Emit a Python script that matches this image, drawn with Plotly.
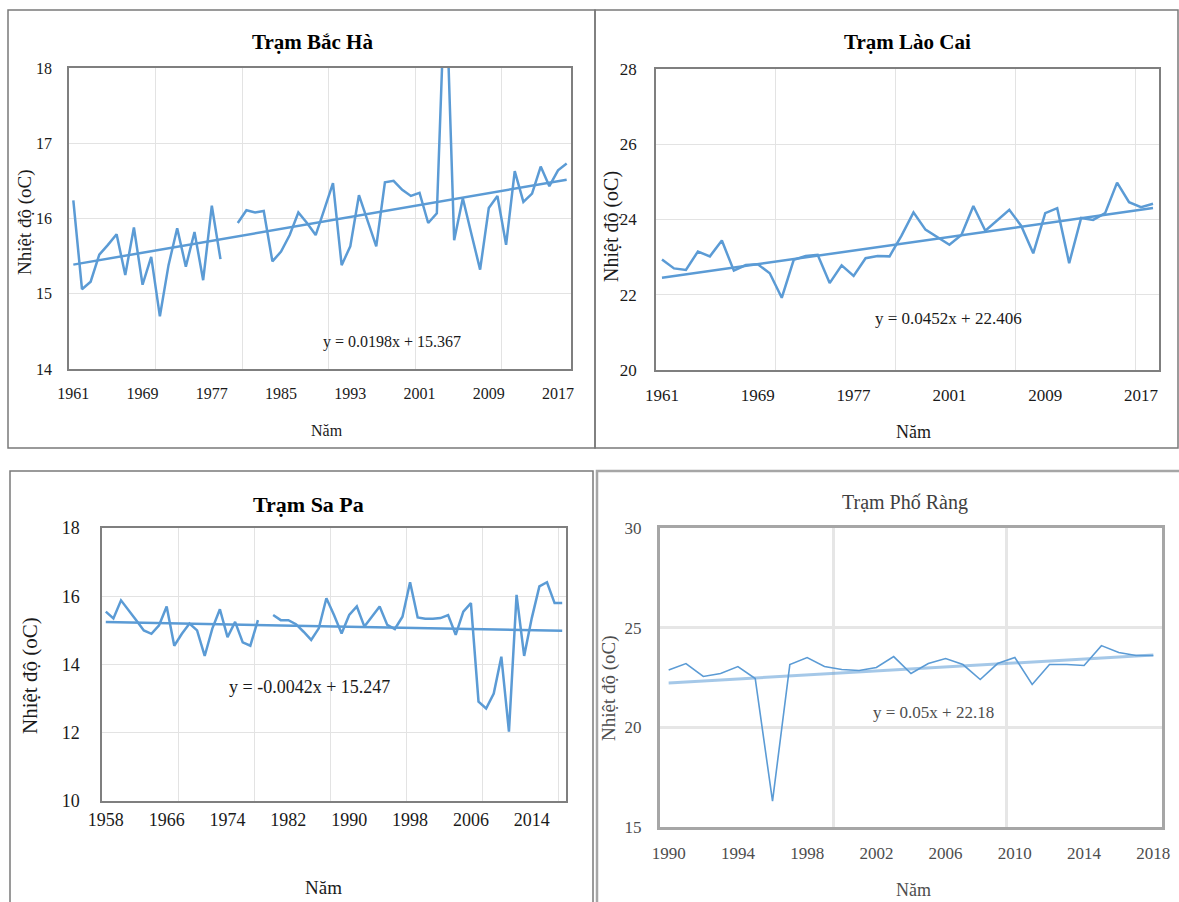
import plotly.graph_objects as go

W, H = 1179, 902

# ---------------- data ----------------
bac_ha_years = list(range(1961, 2019))
bac_ha_temp = [16.24, 15.06, 15.16, 15.52, 15.65, 15.79, 15.25, 15.88, 15.12, 15.49,
               14.70, 15.38, 15.87, 15.36, 15.82, 15.18, 16.17, 15.46, None, 15.94,
               16.11, 16.08, 16.10, 15.43, 15.56, 15.78, 16.08, 15.94, 15.78, 16.12,
               16.47, 15.38, 15.63, 16.31, 15.97, 15.63, 16.48, 16.50, 16.38, 16.30,
               16.34, 15.94, 16.07, 19.30, 15.71, 16.27, 15.79, 15.32, 16.14, 16.30,
               15.65, 16.63, 16.22, 16.33, 16.69, 16.43, 16.64, 16.73]
bac_ha_trend = [0.0198, 15.367]

lao_cai_years = [1961, 1962, 1963, 1964, 1965, 1966, 1967, 1968, 1969, 1970, 1971, 1972,
                 1973, 1974, 1975, 1976, 1977,
                 1994, 1995, 1996, 1997, 1998, 1999, 2000, 2001, 2002, 2003, 2004, 2005,
                 2006, 2007, 2008, 2009, 2010, 2011, 2012, 2013, 2014, 2015, 2016, 2017, 2018]
lao_cai_temp = [22.94, 22.70, 22.66, 23.15, 23.02, 23.44, 22.64, 22.79, 22.81, 22.57,
                21.92, 22.93, 23.03, 23.06, 22.31, 22.78, 22.50, 22.97, 23.03, 23.02,
                23.57, 24.19, 23.73, 23.53, 23.33, 23.59, 24.36, 23.70, 23.99, 24.26,
                23.83, 23.10, 24.17, 24.30, 22.84, 24.04, 23.99, 24.17, 24.98, 24.46,
                24.33, 24.42]
lao_cai_trend = [0.0452, 22.406]

sa_pa_years = list(range(1958, 2019))
sa_pa_temp = [15.55, 15.35, 15.88, 15.60, 15.30, 15.00, 14.90, 15.15, 15.70, 14.55,
              14.90, 15.20, 15.00, 14.25, 15.05, 15.62, 14.80, 15.25, 14.65, 14.55,
              15.30, None, 15.45, 15.30, 15.30, 15.18, 14.96, 14.72, 15.06, 15.94,
              15.45, 14.91, 15.45, 15.70, 15.11, 15.40, 15.70, 15.16, 15.04, 15.40,
              16.41, 15.38, 15.34, 15.34, 15.36, 15.45, 14.87, 15.55, 15.80, 12.91,
              12.71, 13.15, 14.23, 12.03, 16.04, 14.25, 15.36, 16.29, 16.41, 15.80,
              15.80]
sa_pa_trend = [-0.0042, 15.247]

pho_rang_years = list(range(1990, 2019))
pho_rang_temp = [22.88, 23.20, 22.55, 22.70, 23.05, 22.45, 16.30, 23.15, 23.50, 23.05,
                 22.90, 22.85, 23.00, 23.55, 22.70, 23.20, 23.45, 23.15, 22.40, 23.20,
                 23.50, 22.15, 23.15, 23.15, 23.10, 24.10, 23.75, 23.60, 23.60]
pho_rang_trend = [0.05, 22.18]

titles = ["Trạm Bắc Hà", "Trạm Lào Cai", "Trạm Sa Pa", "Trạm Phố Ràng"]
y_title = "Nhiệt độ (oC)"
x_title = "Năm"

FONT = "Liberation Serif"
BLUE = "#5B9BD5"


def fx(px):
    return px / W


def fy(py):
    return 1 - py / H


panels = [
    dict(years=bac_ha_years, temp=bac_ha_temp, coef=bac_ha_trend, title=titles[0],
         xd=(69, 571), yd=(68, 369), yr=(14, 18), dt=1, step=8, fs=16,
         title_pos=(312, 42), title_fs=21, bold=True,
         yt_pos=(25, 222), yt_fs=19, xt_pos=(327, 430), xt_fs=16,
         eq_pos=(392, 342), eq_fs=16,
         frame="#7F7F7F", fw=1.5, grid="#E3E3E3", gw=1, lw=2.5, tw=2.5, tcol=BLUE,
         txt="#1a1a1a", xstand=9, ystand=12),
    dict(years=lao_cai_years, temp=lao_cai_temp, coef=lao_cai_trend, title=titles[1],
         xd=(656, 1159), yd=(69, 370), yr=(20, 28), dt=2, step=8, fs=17,
         title_pos=(907, 42), title_fs=21, bold=True,
         yt_pos=(611, 227), yt_fs=20, xt_pos=(913, 432), xt_fs=18,
         eq_pos=(948, 318), eq_fs=17,
         frame="#7F7F7F", fw=1.5, grid="#E3E3E3", gw=1, lw=2.5, tw=2.5, tcol=BLUE,
         txt="#1a1a1a", xstand=9, ystand=14),
    dict(years=sa_pa_years, temp=sa_pa_temp, coef=sa_pa_trend, title=titles[2],
         xd=(102, 566), yd=(528, 801), yr=(10, 18), dt=2, step=8, fs=18,
         title_pos=(308, 505), title_fs=22, bold=True,
         yt_pos=(30, 675), yt_fs=21, xt_pos=(323, 887), xt_fs=19,
         eq_pos=(309, 687), eq_fs=18,
         frame="#7F7F7F", fw=1.5, grid="#E3E3E3", gw=1, lw=2.5, tw=2.5, tcol=BLUE,
         txt="#1a1a1a", xstand=2, ystand=17),
    dict(years=pho_rang_years, temp=pho_rang_temp, coef=pho_rang_trend, title=titles[3],
         xd=(660, 1162), yd=(528, 827), yr=(15, 30), dt=5, step=4, fs=17,
         title_pos=(905, 502), title_fs=20, bold=False,
         yt_pos=(609, 688), yt_fs=19, xt_pos=(913, 890), xt_fs=18,
         eq_pos=(933, 712), eq_fs=17,
         frame="#A6A6A6", fw=3, grid="#E6E6E6", gw=2.5, lw=1.6, tw=3,
         tcol="rgba(91,155,213,0.55)",
         txt="#4d4d4d", xstand=9, ystand=12),
]

fig = go.Figure()
annotations = []
layout = {}

for k, p in enumerate(panels):
    sfx = "" if k == 0 else str(k + 1)
    xa, ya = "x" + sfx, "y" + sfx
    n = len(p["years"])
    idx = list(range(n))
    trend = [p["coef"][0] * (i + 1) + p["coef"][1] for i in idx]

    fig.add_trace(go.Scatter(x=idx, y=p["temp"], mode="lines", connectgaps=False,
                             line=dict(color=BLUE, width=p["lw"]),
                             xaxis=xa, yaxis=ya, showlegend=False, hoverinfo="skip"))
    fig.add_trace(go.Scatter(x=idx, y=trend, mode="lines",
                             line=dict(color=p["tcol"], width=p["tw"]),
                             xaxis=xa, yaxis=ya, showlegend=False, hoverinfo="skip"))

    tickvals = idx[::p["step"]]
    ticktext = [str(p["years"][i]) for i in tickvals]
    gridvals = [i - 0.5 for i in idx if i > 0 and i % 10 == 0]

    tfont = dict(family=FONT, size=p["fs"], color=p["txt"])
    layout["xaxis" + sfx] = dict(
        domain=[fx(p["xd"][0]), fx(p["xd"][1])], anchor=ya, automargin=False,
        range=[-0.5, n - 0.5], tickmode="array", tickvals=tickvals, ticktext=ticktext,
        showgrid=False, zeroline=False, showline=True, mirror=True,
        linecolor=p["frame"], linewidth=p["fw"], ticks="", tickfont=tfont,
        ticklabelstandoff=p["xstand"],
        minor=dict(tickmode="array", tickvals=gridvals, showgrid=True,
                   gridcolor=p["grid"], gridwidth=p["gw"], ticks=""),
        fixedrange=True)
    layout["yaxis" + sfx] = dict(
        domain=[fy(p["yd"][1]), fy(p["yd"][0])], anchor=xa, automargin=False,
        range=list(p["yr"]), dtick=p["dt"], tick0=p["yr"][0],
        showgrid=True, gridcolor=p["grid"], gridwidth=p["gw"], zeroline=False,
        showline=True, mirror=True, linecolor=p["frame"], linewidth=p["fw"],
        ticks="", tickfont=tfont, ticklabelstandoff=p["ystand"], fixedrange=True)

    t = "<b>%s</b>" % p["title"] if p["bold"] else p["title"]
    annotations.append(dict(text=t, x=fx(p["title_pos"][0]), y=fy(p["title_pos"][1]),
                            xref="paper", yref="paper", showarrow=False,
                            xanchor="center", yanchor="middle",
                            font=dict(family=FONT, size=p["title_fs"],
                                      color="#000000" if p["bold"] else "#404040")))
    annotations.append(dict(text=y_title, x=fx(p["yt_pos"][0]), y=fy(p["yt_pos"][1]),
                            xref="paper", yref="paper", showarrow=False, textangle=-90,
                            xanchor="center", yanchor="middle",
                            font=dict(family=FONT, size=p["yt_fs"], color=p["txt"])))
    annotations.append(dict(text=x_title, x=fx(p["xt_pos"][0]), y=fy(p["xt_pos"][1]),
                            xref="paper", yref="paper", showarrow=False,
                            xanchor="center", yanchor="middle",
                            font=dict(family=FONT, size=p["xt_fs"], color=p["txt"])))
    if p["coef"][0] < 0:
        eq = "y = -%gx + %g" % (abs(p["coef"][0]), p["coef"][1])
    else:
        eq = "y = %gx + %g" % (p["coef"][0], p["coef"][1])
    annotations.append(dict(text=eq, x=fx(p["eq_pos"][0]), y=fy(p["eq_pos"][1]),
                            xref="paper", yref="paper", showarrow=False,
                            xanchor="center", yanchor="middle",
                            font=dict(family=FONT, size=p["eq_fs"], color=p["txt"])))

borders = [
    (8, 10, 595, 448, "#7a7a7a", 1.5),
    (595, 10, 1178, 448, "#7a7a7a", 1.5),
    (10, 471, 593, 910, "#7a7a7a", 1.5),
    (597, 471, 1185, 910, "#a6a6a6", 2.5),
]
shapes = [dict(type="rect", xref="paper", yref="paper",
               x0=fx(b[0]), x1=fx(b[2]), y0=fy(b[3]), y1=fy(b[1]),
               line=dict(color=b[4], width=b[5]), fillcolor="rgba(0,0,0,0)", layer="below")
          for b in borders]

fig.update_layout(width=W, height=H,
                  margin=dict(l=0, r=0, t=0, b=0, pad=0, autoexpand=False),
                  paper_bgcolor="white", plot_bgcolor="white",
                  annotations=annotations, shapes=shapes, **layout)

fig.write_html("out.html",
               config={"displayModeBar": False},
               post_script="document.body.style.margin='0';"
                           "document.body.style.overflow='hidden';")
